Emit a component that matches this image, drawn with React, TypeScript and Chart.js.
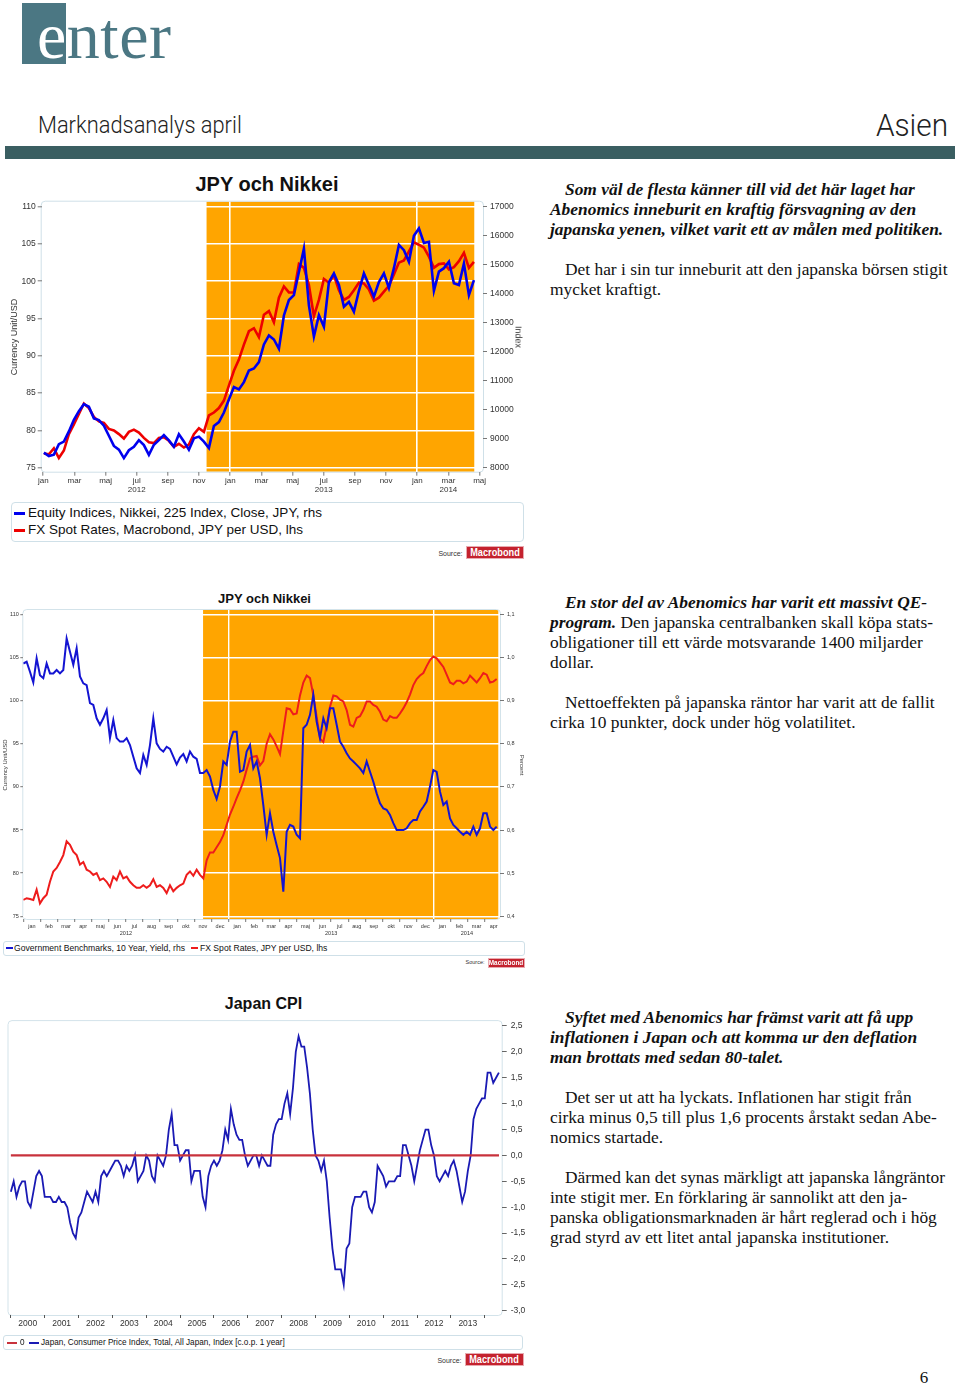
import React, { useEffect, useRef } from "react";
import { Chart, registerables } from "chart.js";
Chart.register(...registerables);

const SANS = '"Liberation Sans", Arial, Helvetica, sans-serif';
const SERIF = '"Liberation Serif", "Times New Roman", Times, serif';

// ---------------- Chart 1: JPY och Nikkei (x = months since 1 Jan 2012)
const c1Start = 0.04;
const c1Step = 0.3209;
const c1Nikkei = [8520, 8400, 8450, 8810, 8900, 9250, 9650, 9950, 10190, 10100,
  9700, 9640, 9450, 9100, 8750, 8620, 8330, 8600, 8720, 8950,
  8780, 8440, 8790, 8950, 9120, 8940, 8720, 9150, 8900, 8620,
  9010, 9070, 8900, 8680, 9440, 9570, 9900, 10350, 10780, 10700,
  10950, 11350, 11420, 11640, 12250, 12560, 12420, 12100, 13250, 13780,
  13950, 14750, 15550, 13600, 12520, 13260, 12860, 14400, 14700, 14300,
  13550, 13720, 13380, 14100, 14700, 14300, 13900, 14400, 14700, 14200,
  14880, 15680, 15500, 15100, 16000, 16250, 15750, 15790, 14100, 14760,
  14880, 15100, 14360, 14300, 15040, 13950, 14470];
const c1Jpy = [76.9, 76.8, 77.6, 76.3, 77.3, 79.5, 80.8, 82.2, 83.6, 83.0,
  81.8, 81.2, 81.0, 80.2, 80.0, 79.5, 78.9, 79.8, 80.1, 79.7,
  79.0, 78.4, 78.3, 79.0, 79.1, 78.6, 77.8, 78.2, 77.7, 78.1,
  79.5, 80.3, 79.8, 82.0, 82.4, 83.0, 84.0, 86.0, 88.0, 89.5,
  91.5, 93.3, 93.7, 92.5, 95.5, 96.0, 94.5, 97.8, 99.3, 98.5,
  98.5, 102.3, 101.8, 99.5, 95.3, 97.5, 100.3, 99.8, 100.8, 98.8,
  97.5, 97.9, 98.8, 99.8, 99.7, 98.9, 97.4, 97.8, 98.6, 99.4,
  100.9, 102.5, 102.8, 104.0, 105.2, 104.9, 104.5, 103.3, 101.8, 102.3,
  102.4, 101.6, 101.9, 102.7, 103.8, 101.8, 102.6];
const c1XTicks = [0, 2, 4, 6, 8, 10, 12, 14, 16, 18, 20, 22, 24, 26, 28];
const c1XLabels = [["jan"], ["mar"], ["maj"], ["jul", "2012"], ["sep"], ["nov"], ["jan"], ["mar"], ["maj"], ["jul", "2013"], ["sep"], ["nov"], ["jan"], ["mar", "2014"], ["maj"]];
const c1LeftTicks = [75, 80, 85, 90, 95, 100, 105, 110];
const c1RightTicks = [8000, 9000, 10000, 11000, 12000, 13000, 14000, 15000, 16000, 17000];
const c1Band = [10.48, 27.66];

// ---------------- Chart 2: JPY och 10y yield (x = months since 1 Jan 2012)
const c2Start = 0.0;
const c2Step = 0.1949;
const c2Jpy = [76.9, 77.1, 77.0, 76.9, 78.1, 76.5, 77.1, 77.5, 79.0, 80.2,
  80.6, 81.3, 82.1, 83.7, 83.3, 82.5, 82.1, 81.0, 81.3, 80.4,
  80.2, 79.8, 80.0, 79.2, 79.4, 79.0, 78.4, 79.6, 79.2, 80.2,
  79.4, 79.6, 79.0, 78.6, 78.3, 78.3, 78.6, 78.3, 78.6, 79.3,
  78.4, 78.6, 78.3, 77.7, 78.6, 77.9, 78.3, 78.6, 78.8, 79.8,
  80.2, 79.7, 80.4, 79.8, 79.4, 81.5, 82.4, 82.4, 83.0, 83.6,
  84.4, 85.6, 86.8, 87.7, 88.7, 89.6, 90.6, 92.0, 93.3, 93.5,
  93.6, 92.5, 93.0, 95.0, 96.1, 95.5, 94.7, 93.8, 96.5, 99.1,
  99.0, 98.4, 98.5, 100.6, 102.1, 102.9, 102.6, 100.6, 98.1, 95.6,
  95.2, 97.1, 99.3, 100.6, 100.5, 100.1, 99.9, 98.9, 97.2, 97.0,
  98.0, 98.2, 98.9, 99.9, 99.9, 99.5, 99.3, 98.7, 97.8, 97.6,
  98.2, 98.0, 98.0, 98.5, 99.1, 99.8, 100.7, 101.8, 102.5, 102.9,
  103.2, 104.0, 104.7, 105.1, 104.9, 104.4, 103.9, 103.0, 102.1, 101.9,
  102.3, 102.3, 102.0, 102.2, 102.9, 102.5, 102.1, 102.6, 103.2, 103.0,
  102.1, 102.2, 102.5];
const c2Yield = [0.986, 0.990, 0.967, 0.942, 0.998, 0.959, 0.952, 0.986, 0.963, 0.963,
  0.971, 0.963, 0.971, 1.044, 1.013, 0.983, 1.021, 0.956, 0.940, 0.936,
  0.894, 0.890, 0.859, 0.844, 0.859, 0.878, 0.813, 0.855, 0.813, 0.805,
  0.805, 0.813, 0.797, 0.770, 0.743, 0.732, 0.774, 0.751, 0.797, 0.859,
  0.801, 0.788, 0.782, 0.793, 0.788, 0.770, 0.752, 0.768, 0.776, 0.759,
  0.782, 0.770, 0.765, 0.732, 0.732, 0.739, 0.724, 0.693, 0.672, 0.701,
  0.759, 0.751, 0.805, 0.828, 0.828, 0.735, 0.739, 0.782, 0.797, 0.743,
  0.759, 0.720, 0.658, 0.589, 0.639, 0.596, 0.565, 0.535, 0.457, 0.596,
  0.612, 0.608, 0.589, 0.581, 0.836, 0.844, 0.867, 0.913, 0.851, 0.813,
  0.859, 0.836, 0.882, 0.882, 0.844, 0.805, 0.793, 0.778, 0.766, 0.759,
  0.751, 0.743, 0.732, 0.759, 0.735, 0.712, 0.685, 0.662, 0.650, 0.647,
  0.635, 0.616, 0.600, 0.600, 0.600, 0.604, 0.616, 0.623, 0.623, 0.643,
  0.654, 0.666, 0.701, 0.739, 0.735, 0.689, 0.658, 0.666, 0.627, 0.612,
  0.604, 0.596, 0.589, 0.596, 0.589, 0.608, 0.589, 0.604, 0.639, 0.639,
  0.608, 0.600, 0.608];
const c2MonthNames = ["jan", "feb", "mar", "apr", "maj", "jun", "jul", "aug", "sep", "okt", "nov", "dec"];
const c2XTicks = [0, 1, 2, 3, 4, 5, 6, 7, 8, 9, 10, 11, 12, 13, 14, 15, 16, 17, 18, 19, 20, 21, 22, 23, 24, 25, 26, 27];
const c2Years = ["2012", "2013", "2014"];
const c2LeftTicks = [75, 80, 85, 90, 95, 100, 105, 110];
const c2RightTicks = [0.4, 0.5, 0.6, 0.7, 0.8, 0.9, 1.0, 1.1];
const c2Band = [10.51, 27.77];

// ---------------- Chart 3: Japan CPI, monthly from Jan 2000
const c3Cpi = [-0.7, -0.5, -0.8, -0.6, -0.5, -0.5, -0.9, -1.0, -0.7, -0.4,
  -0.3, -0.4, -0.8, -0.8, -0.8, -0.9, -0.9, -0.8, -0.9, -0.9,
  -1.0, -1.3, -1.5, -1.6, -1.2, -1.1, -0.9, -0.7, -0.8, -0.9,
  -0.7, -0.9, -0.4, -0.3, -0.4, -0.3, -0.2, -0.1, -0.1, -0.2,
  -0.4, -0.2, -0.3, -0.2, 0.0, -0.5, -0.4, -0.3, 0.0, -0.1,
  -0.4, -0.5, 0.0, -0.1, -0.2, 0.0, 0.5, 0.8, 0.2, 0.2,
  -0.1, 0.0, 0.1, 0.1, -0.5, -0.3, -0.3, -0.3, -0.8, -1.0,
  -0.4, -0.2, -0.1, -0.2, -0.1, 0.1, 0.5, 0.3, 0.9, 0.6,
  0.4, 0.3, 0.3, 0.0, -0.2, -0.1, 0.0, 0.0, -0.2, 0.0,
  -0.1, -0.2, -0.2, 0.4, 0.6, 0.7, 0.7, 1.0, 1.2, 0.8,
  1.3, 2.0, 2.3, 2.1, 2.1, 1.7, 1.2, 0.5, 0.0, -0.1,
  -0.3, -0.1, -0.5, -1.2, -1.8, -2.2, -2.2, -2.2, -2.5, -1.8,
  -1.7, -1.0, -0.8, -0.8, -0.8, -0.7, -0.7, -1.0, -1.1, -0.9,
  -0.2, -0.3, -0.4, -0.6, -0.5, -0.5, -0.5, -0.4, -0.4, 0.2,
  0.2, 0.0, -0.2, -0.5, -0.2, 0.1, 0.3, 0.5, 0.5, 0.2,
  0.0, -0.4, -0.5, -0.4, -0.3, -0.4, -0.2, -0.1, -0.3, -0.6,
  -0.9, -0.7, -0.3, 0.0, 0.7, 0.9, 1.0, 1.1, 1.1, 1.6,
  1.6, 1.4, 1.5, 1.6];
const c3Zero = [0, 0];
const c3ZeroRange = [2000.0, 2014.42];
const c3XTicks = [2000, 2001, 2002, 2003, 2004, 2005, 2006, 2007, 2008, 2009, 2010, 2011, 2012, 2013, 2014];
const c3YearLabels = ["2000", "2001", "2002", "2003", "2004", "2005", "2006", "2007", "2008", "2009", "2010", "2011", "2012", "2013"];
const c3YTicks = [-3, -2.5, -2, -1.5, -1, -0.5, 0, 0.5, 1, 1.5, 2, 2.5];

// ---------------- helpers
function roundRectPath(ctx: CanvasRenderingContext2D, x: number, y: number, w: number, h: number, r: number) {
  ctx.beginPath();
  ctx.moveTo(x + r, y);
  ctx.lineTo(x + w - r, y);
  ctx.arcTo(x + w, y, x + w, y + r, r);
  ctx.lineTo(x + w, y + h - r);
  ctx.arcTo(x + w, y + h, x + w - r, y + h, r);
  ctx.lineTo(x + r, y + h);
  ctx.arcTo(x, y + h, x, y + h - r, r);
  ctx.lineTo(x, y + r);
  ctx.arcTo(x, y, x + r, y, r);
  ctx.closePath();
}

type XLabel = { v: number; text: string; dy: number };
function makeDeco(opts: { band?: number[]; frame?: string; labels?: XLabel[]; labelSize?: number }) {
  return {
    id: "deco",
    beforeDraw(chart: any) {
      const { ctx, chartArea: a } = chart;
      const xs = chart.scales.x;
      ctx.save();
      if (opts.band) {
        const x0 = xs.getPixelForValue(opts.band[0]);
        const x1 = xs.getPixelForValue(opts.band[1]);
        ctx.fillStyle = "#FFA500";
        ctx.fillRect(x0, a.top, x1 - x0, a.bottom - a.top);
      }
      if (opts.frame) {
        roundRectPath(ctx, a.left - 0.5, a.top - 0.5, a.right - a.left + 1, a.bottom - a.top + 1, 4);
        ctx.strokeStyle = opts.frame;
        ctx.lineWidth = 1;
        ctx.stroke();
      }
      ctx.restore();
    },
    afterDraw(chart: any) {
      if (!opts.labels) return;
      const { ctx, chartArea: a } = chart;
      const xs = chart.scales.x;
      ctx.save();
      ctx.fillStyle = "#333";
      ctx.textAlign = "center";
      ctx.textBaseline = "middle";
      ctx.font = `${opts.labelSize || 8}px ${SANS}`;
      opts.labels.forEach((l) => ctx.fillText(l.text, xs.getPixelForValue(l.v), a.bottom + l.dy));
      ctx.restore();
    },
  };
}

function series(vals: number[], start: number, step: number) {
  return vals.map((v, i) => ({ x: start + i * step, y: v }));
}

const fixTicks = (vals: number[]) => (s: any) => {
  s.ticks = vals.map((v) => ({ value: v }));
};
const comma = (v: number) => (Math.abs(v) < 1e-9 ? "0,0" : v.toFixed(1).replace(".", ","));

// ---------------- chart configs
const W = 530;
const A1 = { l: 41.7, t: 31.7, r: 483, b: 301.7, h: 330 };
const A2 = { l: 23.3, t: 10, r: 500, b: 319, h: 340 };
const A3 = { l: 8.5, t: 6.3, r: 501.7, b: 303, h: 322 };

function config1(): any {
  const lMin = 74.46, lMax = 110.67;
  const conv = (v: number) => 8000 + (v - 75) * (9000 / 35);
  return {
    type: "line",
    data: {
      datasets: [
        { data: series(c1Nikkei, c1Start, c1Step), yAxisID: "y1", borderColor: "#0000ee", borderWidth: 2.6, pointRadius: 0, tension: 0 },
        { data: series(c1Jpy, c1Start, c1Step), yAxisID: "y", borderColor: "#ee0000", borderWidth: 2.6, pointRadius: 0, tension: 0 },
      ],
    },
    options: {
      animation: false, responsive: false, events: [],
      layout: { padding: { top: A1.t, left: 0, right: 0, bottom: 0 }, autoPadding: false },
      plugins: { legend: { display: false }, tooltip: { enabled: false }, title: { display: false } },
      scales: {
        x: {
          type: "linear", min: -0.1, max: 28.22,
          afterBuildTicks: fixTicks(c1XTicks),
          afterFit: (s: any) => { s.height = A1.h - A1.b; },
          ticks: { autoSkip: false, maxRotation: 0, minRotation: 0, padding: 1, color: "#333", font: { family: SANS, size: 8, lineHeight: 1.1 }, callback: (_v: any, i: number) => c1XLabels[i] },
          grid: { color: (c: any) => (c.tick && (c.tick.value === 12 || c.tick.value === 24) ? "#ffffff" : "rgba(0,0,0,0)"), lineWidth: 1.6, tickColor: "#777", tickWidth: 1, tickLength: 4 },
          border: { display: false },
        },
        y: {
          position: "left", min: lMin, max: lMax,
          afterBuildTicks: fixTicks(c1LeftTicks),
          afterFit: (s: any) => { s.width = A1.l; },
          ticks: { padding: 2, color: "#333", font: { family: SANS, size: 8.5 }, callback: (v: number) => String(v) },
          grid: { color: "#ffffff", lineWidth: 1.6, tickColor: "#777", tickWidth: 1, tickLength: 4 },
          border: { display: false },
        },
        y1: {
          position: "right", min: conv(lMin), max: conv(lMax),
          afterBuildTicks: fixTicks(c1RightTicks),
          afterFit: (s: any) => { s.width = W - A1.r; },
          ticks: { padding: 3, color: "#333", font: { family: SANS, size: 8.5 }, callback: (v: number) => String(Math.round(v)) },
          grid: { drawOnChartArea: false, tickColor: "#777", tickWidth: 1, tickLength: 4 },
          border: { display: false },
        },
      },
    },
    plugins: [makeDeco({ band: c1Band, frame: "#cfe0e8" })],
  };
}

function config2(): any {
  const lMin = 74.69, lMax = 110.5;
  const conv = (v: number) => 0.4 + (v - 75) * 0.02;
  const xMax = 27.87;
  const labels: XLabel[] = c2XTicks.map((m) => ({ v: m + 0.5, text: c2MonthNames[m % 12], dy: 7 }));
  labels.push({ v: 6, text: c2Years[0], dy: 14 }, { v: 18, text: c2Years[1], dy: 14 }, { v: (24 + xMax) / 2, text: c2Years[2], dy: 14 });
  return {
    type: "line",
    data: {
      datasets: [
        { data: series(c2Yield, c2Start, c2Step), yAxisID: "y1", borderColor: "#1414d2", borderWidth: 2, pointRadius: 0, tension: 0 },
        { data: series(c2Jpy, c2Start, c2Step), yAxisID: "y", borderColor: "#ee1c1c", borderWidth: 2, pointRadius: 0, tension: 0 },
      ],
    },
    options: {
      animation: false, responsive: false, events: [],
      layout: { padding: { top: A2.t, left: 0, right: 0, bottom: 0 }, autoPadding: false },
      plugins: { legend: { display: false }, tooltip: { enabled: false }, title: { display: false } },
      scales: {
        x: {
          type: "linear", min: 0, max: xMax,
          afterBuildTicks: fixTicks(c2XTicks),
          afterFit: (s: any) => { s.height = A2.h - A2.b; },
          ticks: { autoSkip: false, maxRotation: 0, minRotation: 0, callback: () => "" },
          grid: { color: (c: any) => (c.tick && (c.tick.value === 12 || c.tick.value === 24) ? "#ffffff" : "rgba(0,0,0,0)"), lineWidth: 1.4, tickColor: "#777", tickWidth: 1, tickLength: 3 },
          border: { display: false },
        },
        y: {
          position: "left", min: lMin, max: lMax,
          afterBuildTicks: fixTicks(c2LeftTicks),
          afterFit: (s: any) => { s.width = A2.l; },
          ticks: { padding: 1.5, color: "#333", font: { family: SANS, size: 5.5 }, callback: (v: number) => String(v) },
          grid: { color: "#ffffff", lineWidth: 1.4, tickColor: "#777", tickWidth: 1, tickLength: 3 },
          border: { display: false },
        },
        y1: {
          position: "right", min: conv(lMin), max: conv(lMax),
          afterBuildTicks: fixTicks(c2RightTicks),
          afterFit: (s: any) => { s.width = W - A2.r; },
          ticks: { padding: 3, color: "#333", font: { family: SANS, size: 5.5 }, callback: (v: number) => comma(v) },
          grid: { drawOnChartArea: false, tickColor: "#777", tickWidth: 1, tickLength: 4 },
          border: { display: false },
        },
      },
    },
    plugins: [makeDeco({ band: c2Band, frame: "#d3e3ea", labels, labelSize: 5.5 })],
  };
}

function config3(): any {
  const labels: XLabel[] = c3YearLabels.map((t, i) => ({ v: c3XTicks[i] + 0.5, text: t, dy: 9 }));
  return {
    type: "line",
    data: {
      datasets: [
        { data: c3Zero.map((v, i) => ({ x: c3ZeroRange[i], y: v })), borderColor: "#c8323c", borderWidth: 2.4, pointRadius: 0 },
        { data: series(c3Cpi, 2000, 1 / 12), borderColor: "#1a1ab4", borderWidth: 1.8, pointRadius: 0, tension: 0 },
      ],
    },
    options: {
      animation: false, responsive: false, events: [],
      layout: { padding: { top: A3.t, left: A3.l, right: 0, bottom: 0 }, autoPadding: false },
      plugins: { legend: { display: false }, tooltip: { enabled: false }, title: { display: false } },
      scales: {
        x: {
          type: "linear", min: 1999.93, max: 2014.5,
          afterBuildTicks: fixTicks(c3XTicks),
          afterFit: (s: any) => { s.height = A3.h - A3.b; },
          ticks: { autoSkip: false, maxRotation: 0, minRotation: 0, callback: () => "" },
          grid: { drawOnChartArea: false, tickColor: "#555", tickWidth: 1, tickLength: 3 },
          border: { display: false },
        },
        y: {
          position: "right", min: -3.082, max: 2.594,
          afterBuildTicks: fixTicks(c3YTicks),
          afterFit: (s: any) => { s.width = W - A3.r; },
          ticks: { padding: 4, color: "#333", font: { family: SANS, size: 8.5 }, callback: (v: number) => comma(v) },
          grid: { drawOnChartArea: false, tickColor: "#666", tickWidth: 1, tickLength: 5 },
          border: { display: false },
        },
      },
    },
    plugins: [makeDeco({ frame: "#d3e3ea", labels, labelSize: 8.5 })],
  };
}

function ChartBox({ top, height, make }: { top: number; height: number; make: () => any }) {
  const ref = useRef<HTMLCanvasElement | null>(null);
  useEffect(() => {
    if (!ref.current) return;
    const c = new Chart(ref.current, make());
    return () => c.destroy();
  }, []);
  return <canvas ref={ref} width={W} height={height} style={{ position: "absolute", left: 0, top, width: W, height }} />;
}

function Label({ x, y, text, size, bold, align = "left", color = "#222", family = SANS, rotate = 0, weight, sx = 1 }: any) {
  const tx = align === "left" ? "0" : align === "center" ? "-50%" : "-100%";
  const origin = align === "left" ? "left center" : align === "center" ? "center center" : "right center";
  return (
    <div style={{ position: "absolute", left: x, top: y, transform: `translate(${tx}, -50%) rotate(${rotate}deg) scaleX(${sx})`, transformOrigin: origin, fontFamily: family, fontSize: size, fontWeight: weight || (bold ? 700 : 400), color, lineHeight: 1, whiteSpace: "nowrap" }}>
      {text}
    </div>
  );
}

function Box({ x, y, w, h, color, radius = 0, border }: any) {
  return <div style={{ position: "absolute", left: x, top: y, width: w, height: h, background: color, borderRadius: radius, border, boxSizing: "border-box" }} />;
}

function Source({ x, y, w, h, size, small }: any) {
  return (
    <>
      <Label x={x - 3} y={y + h / 2} text="Source:" size={small} align="right" color="#333" />
      <div style={{ position: "absolute", left: x, top: y, width: w, height: h, background: "#c4222e", boxSizing: "border-box", border: "1px solid #e8aab0", overflow: "hidden" }}>
        <div style={{ position: "absolute", left: "50%", top: "50%", transform: "translate(-50%, -50%) scaleX(0.8)", color: "#fff", fontFamily: SANS, fontWeight: 700, fontSize: size, lineHeight: 1, whiteSpace: "nowrap" }}>
          Macrobond
        </div>
      </div>
    </>
  );
}

type Seg = { t: string; bi?: boolean };
type TLine = { y: number; indent?: boolean; segs: Seg[] };
const textLines: TLine[] = [
  { y: 189, indent: true, segs: [{ t: "Som väl de flesta känner till vid det här laget har", bi: true }] },
  { y: 209, segs: [{ t: "Abenomics inneburit en kraftig försvagning av den", bi: true }] },
  { y: 229, segs: [{ t: "japanska yenen, vilket varit ett av målen med politiken.", bi: true }] },
  { y: 269, indent: true, segs: [{ t: "Det har i sin tur inneburit att den japanska börsen stigit" }] },
  { y: 289, segs: [{ t: "mycket kraftigt." }] },
  { y: 602, indent: true, segs: [{ t: "En stor del av Abenomics har varit ett massivt QE-", bi: true }] },
  { y: 622, segs: [{ t: "program.", bi: true }, { t: " Den japanska centralbanken skall köpa stats-" }] },
  { y: 642, segs: [{ t: "obligationer till ett värde motsvarande 1400 miljarder" }] },
  { y: 662, segs: [{ t: "dollar." }] },
  { y: 702, indent: true, segs: [{ t: "Nettoeffekten på japanska räntor har varit att de fallit" }] },
  { y: 722, segs: [{ t: "cirka 10 punkter, dock under hög volatilitet." }] },
  { y: 1017, indent: true, segs: [{ t: "Syftet med Abenomics har främst varit att få upp", bi: true }] },
  { y: 1037, segs: [{ t: "inflationen i Japan och att komma ur den deflation", bi: true }] },
  { y: 1057, segs: [{ t: "man brottats med sedan 80-talet.", bi: true }] },
  { y: 1097, indent: true, segs: [{ t: "Det ser ut att ha lyckats. Inflationen har stigit från" }] },
  { y: 1117, segs: [{ t: "cirka minus 0,5 till plus 1,6 procents årstakt sedan Abe-" }] },
  { y: 1137, segs: [{ t: "nomics startade." }] },
  { y: 1177, indent: true, segs: [{ t: "Därmed kan det synas märkligt att japanska långräntor" }] },
  { y: 1197, segs: [{ t: "inte stigit mer. En förklaring är sannolikt att den ja-" }] },
  { y: 1217, segs: [{ t: "panska obligationsmarknaden är hårt reglerad och i hög" }] },
  { y: 1237, segs: [{ t: "grad styrd av ett litet antal japanska institutioner." }] },
];

export default function App() {
  return (
    <div style={{ position: "absolute", left: 0, top: 0, width: 960, height: 1386, background: "#fff", overflow: "hidden" }}>
      {/* header */}
      <Box x={22} y={3} w={44} h={61} color="#4b7783" />
      <div style={{ position: "absolute", left: 37, top: 3, fontFamily: SERIF, fontSize: 66, lineHeight: "66px", letterSpacing: 0.5, whiteSpace: "nowrap" }}>
        <span style={{ color: "#ffffff" }}>e</span>
        <span style={{ color: "#4b7783" }}>nter</span>
      </div>
      <Label x={38} y={125} text="Marknadsanalys april" size={23} weight={300} sx={0.95} family='Roboto, "Liberation Sans", sans-serif' color="#222" />
      <Label x={948} y={125} text="Asien" size={31} weight={300} sx={0.96} align="right" family='Roboto, "Liberation Sans", sans-serif' color="#222" />
      <Box x={5} y={146} w={950} h={13} color="#3a5e61" />

      {/* chart 1 */}
      <Label x={267} y={184} text="JPY och Nikkei" size={20} bold align="center" color="#111" />
      <ChartBox top={170} height={A1.h} make={config1} />
      <Label x={14} y={337} text="Currency Unit/USD" size={9} align="center" rotate={-90} color="#333" />
      <Label x={518} y={337} text="Index" size={9} align="center" rotate={90} color="#333" />
      <Box x={11} y={502} w={513} h={40} color="#fff" radius={4} border="1px solid #cfe0e8" />
      <Box x={14} y={511.5} w={11} h={3} color="#0000ee" />
      <Label x={28} y={513} text="Equity Indices, Nikkei, 225 Index, Close, JPY, rhs" size={13.5} color="#111" />
      <Box x={14} y={528.5} w={11} h={3} color="#ee0000" />
      <Label x={28} y={530} text="FX Spot Rates, Macrobond, JPY per USD, lhs" size={13.5} color="#111" />
      <Source x={465.5} y={546} w={58} h={13} size={11.5} small={7} />

      {/* chart 2 */}
      <Label x={264.5} y={598} text="JPY och Nikkei" size={13} bold align="center" color="#111" />
      <ChartBox top={600} height={A2.h} make={config2} />
      <Label x={5} y={765} text="Currency Unit/USD" size={6} align="center" rotate={-90} color="#333" />
      <Label x={522} y={765} text="Percent" size={6} align="center" rotate={90} color="#333" />
      <Box x={3} y={941} w={522} h={15} color="#fff" radius={3} border="1px solid #cfe0e8" />
      <Box x={6} y={947} w={7} h={2} color="#1414d2" />
      <Label x={14} y={948} text="Government Benchmarks, 10 Year, Yield, rhs" size={8.6} color="#111" />
      <Box x={191} y={947} w={7} h={2} color="#ee1c1c" />
      <Label x={200} y={948} text="FX Spot Rates, JPY per USD, lhs" size={8.6} color="#111" />
      <Source x={487.5} y={958} w={37.5} h={10} size={8} small={5.5} />

      {/* chart 3 */}
      <Label x={263.5} y={1004} text="Japan CPI" size={16} bold align="center" color="#111" />
      <ChartBox top={1012} height={A3.h} make={config3} />
      <Box x={3} y={1335} w={520} h={15} color="#fff" radius={3} border="1px solid #cfe0e8" />
      <Box x={7} y={1341.5} w={10} h={2} color="#c8323c" />
      <Label x={20} y={1342.5} text="0" size={8.2} color="#111" />
      <Box x={29} y={1341.5} w={10} h={2} color="#1a1ab4" />
      <Label x={41} y={1342.5} text="Japan, Consumer Price Index, Total, All Japan, Index [c.o.p. 1 year]" size={8.2} color="#111" />
      <Source x={464.5} y={1353} w={59} h={13} size={11.5} small={7} />

      {/* text column */}
      {textLines.map((ln, i) => (
        <div key={i} style={{ position: "absolute", left: ln.indent ? 565 : 550, top: ln.y - 10, height: 20, lineHeight: "20px", fontFamily: SERIF, fontSize: 17.4, color: "#111", whiteSpace: "nowrap" }}>
          {ln.segs.map((s, j) => (
            <span key={j} style={{ fontWeight: s.bi ? 700 : 400, fontStyle: s.bi ? "italic" : "normal" }}>{s.t}</span>
          ))}
        </div>
      ))}
      <Label x={924} y={1377} text="6" size={17} family={SERIF} align="center" color="#111" />
    </div>
  );
}
